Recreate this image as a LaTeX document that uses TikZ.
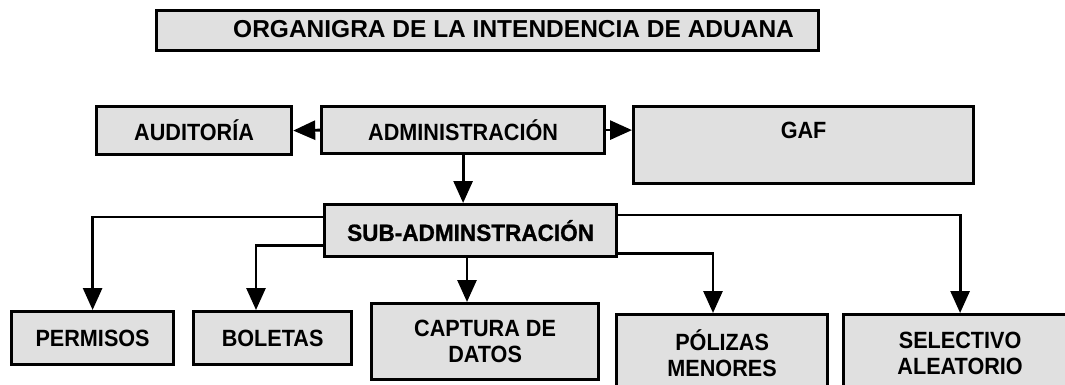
\documentclass[tikz,border=0pt]{standalone}
\usepackage{fontspec}
\setmainfont{Liberation Sans}
\newfontfamily\boxfont[FakeStretch=0.92]{Liberation Sans Bold}
\newfontfamily\subfont[FakeStretch=0.96,FakeBold=1]{Liberation Sans Bold}
\newfontfamily\titlefont{Liberation Sans Bold}
\usetikzlibrary{arrows.meta,calc}
\begin{document}
\begin{tikzpicture}[x=1pt,y=-1pt,
  box/.style={draw=black, line width=3.2pt, fill=black!12, anchor=north west, inner sep=0pt, align=center},
  conn/.style={line width=2.8pt, -{Triangle[width=19pt,length=22pt]}},
  fBox/.style={font=\boxfont\fontsize{23.5}{26}\selectfont}]
\clip (0,0) rectangle (1065,385);
\fill[white] (0,0) rectangle (1065,385);
% boxes
\node[box, minimum width=662pt, minimum height=40pt] (title) at (155,9) {};
\node[anchor=west, inner sep=0pt, font=\titlefont\fontsize{24.5}{27}\selectfont] (titletext) at (233,29) {ORGANIGRA DE LA INTENDENCIA DE ADUANA};
\node[box, fBox, minimum width=195pt, minimum height=48pt] (aud) at (95,105) {AUDITORÍA};
\node[box, fBox, minimum width=283pt, minimum height=47pt] (adm) at (320,105) {ADMINISTRACIÓN};
\node[box, minimum width=340pt, minimum height=77pt] (gaf) at (632,105) {};
\node[fBox] (gaft) at (gaf.north |- adm.center) {GAF};
\node[box, minimum width=292pt, minimum height=52pt, font=\subfont\fontsize{23.5}{26}\selectfont] (sub) at (323,203) {SUB-ADMINSTRACIÓN};
\node[box, fBox, minimum width=162pt, minimum height=53pt] (perm) at (10,310) {PERMISOS};
\node[box, fBox, minimum width=158pt, minimum height=53pt] (bol) at (192,310) {BOLETAS};
\node[box, fBox, minimum width=227pt, minimum height=76pt] (cap) at (370,302) {CAPTURA DE\\DATOS};
\node[box, fBox, minimum width=211pt, minimum height=78pt] (pol) at (615,313) {PÓLIZAS\\MENORES};
\node[box, fBox, minimum width=233pt, minimum height=78pt] (sel) at (842,313) {SELECTIVO\\ALEATORIO};
% connector columns
\coordinate (bolx) at (256,0);
\coordinate (capx) at (467,0);
\coordinate (polx) at (713,0);
% connectors
\draw[conn] (adm.west) -- (aud.east);
\draw[conn] (adm.east) -- (adm.east -| gaf.west);
\draw[conn] (adm.south) -- (adm.south |- sub.north);
\draw[conn] ($(sub.north west)+(0,14)$) -| (perm.north);
\draw[conn] ($(sub.north east)+(0,12)$) -| (sel.north);
\draw[conn] ($(sub.south west)+(0,-13)$) -| (bolx |- bol.north);
\draw[conn] (sub.south -| capx) -- (capx |- cap.north);
\draw[conn] ($(sub.south east)+(0,-5)$) -| (polx |- pol.north);
\end{tikzpicture}
\end{document}
